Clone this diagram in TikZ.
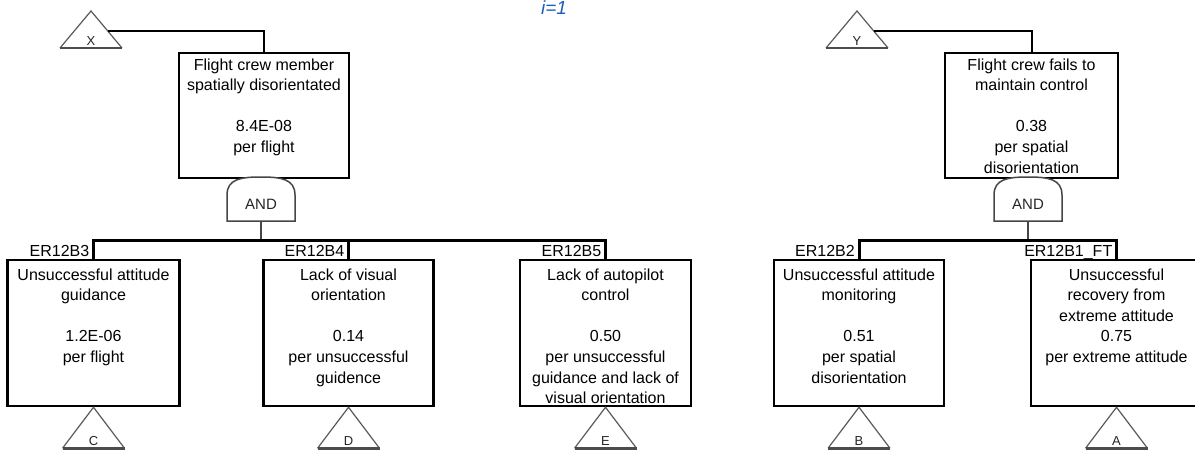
\documentclass[tikz,border=0pt]{standalone}
\usepackage{fontspec}
\setmainfont{Liberation Sans}
\usetikzlibrary{calc}
\definecolor{idxblue}{RGB}{30,95,190}
\definecolor{gategray}{RGB}{70,70,70}
\definecolor{trigray}{RGB}{90,90,90}
\tikzset{
  box/.style={draw=black, line width=2.5pt, fill=white, inner sep=0pt},
  txt/.style={inner sep=0pt, align=center, font=\fontsize{16}{20.6}\selectfont},
  idlabel/.style={inner sep=0pt, font=\fontsize{16}{18}\selectfont},
  gatetxt/.style={inner sep=0pt, font=\fontsize{15}{17}\selectfont, text=black!85},
  gate/.style={draw=gategray, line width=1.5pt, fill=white},
  conn/.style={draw=black, line width=2pt},
  gconn/.style={draw=gategray, line width=2pt},
  bar/.style={draw=black, line width=3pt},
  triside/.style={draw=trigray, line width=1.2pt},
  tribase/.style={draw=black!70, line width=2.5pt},
  trilabel/.style={inner sep=0pt, font=\fontsize{13}{14}\selectfont, text=black!85},
}
\newcommand\xfer[4]{%
  \coordinate (#1a) at #2;
  \coordinate (#1l) at ($(#1a)+(-31,#4)$);
  \coordinate (#1r) at ($(#1a)+(31,#4)$);
  \fill[white] (#1l) -- (#1a) -- (#1r) -- cycle;
  \draw[triside] (#1l) -- (#1a) -- (#1r);
  \draw[tribase] (#1l) -- (#1r);
  \node[trilabel] (#1t) at ($(#1a)+(0,#4-7)$) {#3};
}
\newcommand\andgate[2]{%
  \node[gatetxt] (#1) at #2 {\phantom{AND}};
  \draw[gate] ($(#1)+(-34,17)$) -- ($(#1)+(-34,-9)$)
    .. controls +(0,-16) and +(-20,0) .. ($(#1)+(0,-27)$)
    .. controls +(20,0) and +(0,-16) .. ($(#1)+(34,-9)$)
    -- ($(#1)+(34,17)$) -- cycle;
  \node[gatetxt] at (#1) {AND};
  \coordinate (#1s) at ($(#1)+(0,17)$);
}
\begin{document}
\begin{tikzpicture}[x=1pt,y=-1pt]
\useasboundingbox (0,0) rectangle (1195,450);
\clip (0,0) rectangle (1195,450);

% index label
\node[inner sep=0pt, anchor=base, text=idxblue, font=\fontsize{19}{20}\selectfont\itshape] (idx) at (554,14) {i=1};

% ---------------- left tree ----------------
\coordinate (bar1) at (0,240);
\node[box, minimum width=170pt, minimum height=125pt] (t1) at (264,115.5) {};
\node[txt, anchor=north] (t1x) at ([yshift=-6.5pt]t1.north)
  {Flight crew member\\spatially disorientated\\[20.6pt]8.4E-08\\per flight};

\xfer{X}{(91,11)}{X}{37}
\coordinate (Xc) at ($(Xa)!0.55!(Xr)$);
\draw[conn] (Xc) -| (t1.north);

\andgate{g1}{(261,204)}

\node[box, minimum width=172pt, minimum height=146pt] (b1) at (93.5,333) {};
\node[box, minimum width=170pt, minimum height=146pt] (b2) at (348.5,333) {};
\node[box, minimum width=171pt, minimum height=146pt] (b3) at (605.5,333) {};

\draw[gconn] (g1s) -- (g1s |- bar1);
\draw[bar] (b1.north) -- (b1.north |- bar1) -- (b3.north |- bar1) -- (b3.north);
\draw[bar] (b2.north) -- (b2.north |- bar1);

\node[idlabel, anchor=base east] (l1) at ([xshift=-4pt,yshift=2.5pt]b1.north) {ER12B3};
\node[idlabel, anchor=base east] (l2) at ([xshift=-4pt,yshift=2.5pt]b2.north) {ER12B4};
\node[idlabel, anchor=base east] (l3) at ([xshift=-4pt,yshift=2.5pt]b3.north) {ER12B5};

\node[txt, anchor=north] (b1x) at ([yshift=-9.5pt]b1.north)
  {Unsuccessful attitude\\guidance\\[20.6pt]1.2E-06\\per flight};
\node[txt, anchor=north] (b2x) at ([yshift=-9.5pt]b2.north)
  {Lack of visual\\orientation\\[20.6pt]0.14\\per unsuccessful\\guidence};
\node[txt, anchor=north] (b3x) at ([yshift=-9.5pt]b3.north)
  {Lack of autopilot\\control\\[20.6pt]0.50\\per unsuccessful\\guidance and lack of\\visual orientation};

\xfer{C}{(b1.south)}{C}{41}
\xfer{D}{(b2.south)}{D}{41}
\xfer{E}{(b3.south)}{E}{41}

% ---------------- right tree ----------------
\coordinate (bar2) at (0,240);
\node[box, minimum width=173pt, minimum height=125pt] (t2) at (1031.5,115.5) {};
\node[txt, anchor=north] (t2x) at ([yshift=-6.5pt]t2.north)
  {Flight crew fails to\\maintain control\\[20.6pt]0.38\\per spatial\\disorientation};

\xfer{Y}{(857,11)}{Y}{37}
\coordinate (Yc) at ($(Ya)!0.55!(Yr)$);
\draw[conn] (Yc) -| (t2.north);

\andgate{g2}{(1028,204)}

\node[box, minimum width=170pt, minimum height=146pt] (b4) at (859,333) {};
\node[box, minimum width=171pt, minimum height=146pt] (b5) at (1116.5,333) {};

\draw[gconn] (g2s) -- (g2s |- bar2);
\draw[bar] (b4.north) -- (b4.north |- bar2) -- (b5.north |- bar2) -- (b5.north);

\node[idlabel, anchor=base east] (l4) at ([xshift=-4pt,yshift=2.5pt]b4.north) {ER12B2};
\node[idlabel, anchor=base east] (l5) at ([xshift=-4pt,yshift=2.5pt]b5.north) {ER12B1\_FT};

\node[txt, anchor=north] (b4x) at ([yshift=-9.5pt]b4.north)
  {Unsuccessful attitude\\monitoring\\[20.6pt]0.51\\per spatial\\disorientation};
\node[txt, anchor=north] (b5x) at ([yshift=-9.5pt]b5.north)
  {Unsuccessful\\recovery from\\extreme attitude\\0.75\\per extreme attitude};

\xfer{B}{(b4.south)}{B}{41}
\xfer{A}{(b5.south)}{A}{41}
\end{tikzpicture}
\end{document}
